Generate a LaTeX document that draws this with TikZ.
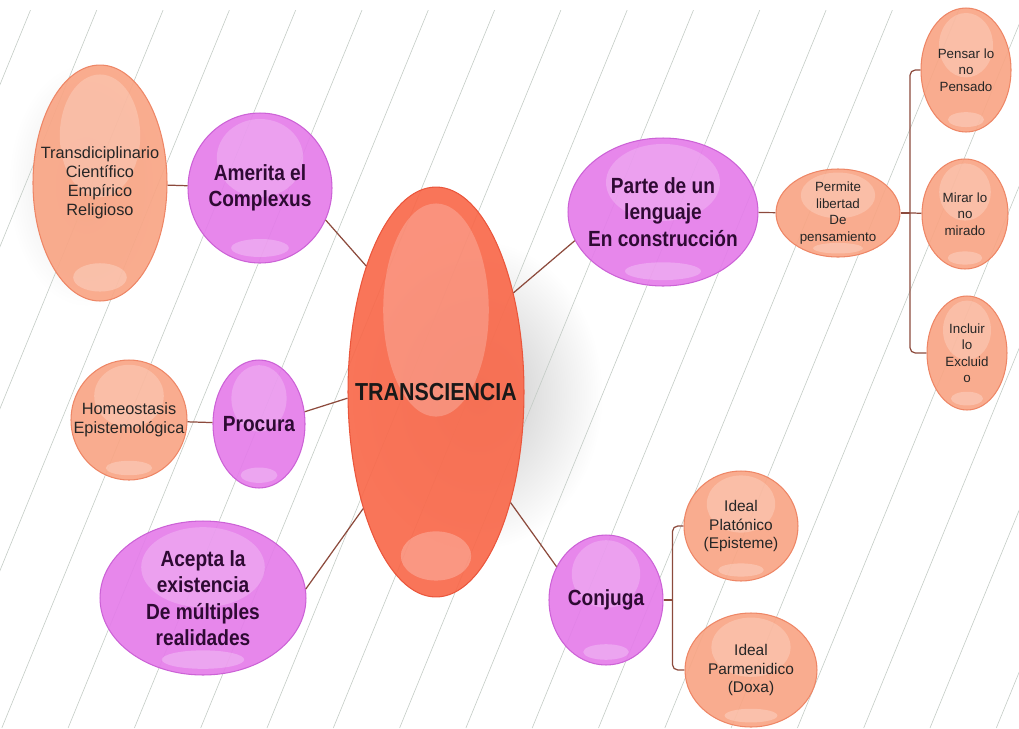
\documentclass[tikz,border=0pt]{standalone}
\usepackage{fontspec}
\setmainfont{Liberation Sans}
\newfontfamily\narrowsans[FakeStretch=0.87]{Liberation Sans}
\usetikzlibrary{shapes.geometric,calc,positioning}
\definecolor{ballpink}{RGB}{229,126,234}
\definecolor{ballpinkedge}{RGB}{204,98,214}
\definecolor{ballorange}{RGB}{249,166,134}
\definecolor{ballorangeedge}{RGB}{238,134,102}
\definecolor{ballred}{RGB}{249,106,76}
\definecolor{ballrededge}{RGB}{234,86,60}
\definecolor{pinktext}{RGB}{46,10,51}
\definecolor{linkbrown}{RGB}{140,74,60}
\definecolor{bgline}{RGB}{196,204,198}

\tikzset{
  gloss/.style={path picture={
    \fill[white,fill opacity=.22]
      let \p1=(path picture bounding box.south west), \p2=(path picture bounding box.north east)
      in ({0.5*\x1+0.5*\x2},{0.3*\y1+0.7*\y2}) ellipse ({0.3*(\x2-\x1)} and {0.26*(\y2-\y1)});
    \fill[white,fill opacity=.25]
      let \p1=(path picture bounding box.south west), \p2=(path picture bounding box.north east)
      in ({0.5*\x1+0.5*\x2},{0.9*\y1+0.1*\y2}) ellipse ({0.2*(\x2-\x1)} and {0.06*(\y2-\y1)});
  }},
  ball/.style={ellipse, inner sep=-2cm, line width=0.6pt, fill opacity=.93,
    text opacity=1, align=center, gloss},
  pinkball/.style={ball, fill=ballpink, draw=ballpinkedge, text=pinktext,
    font=\narrowsans\bfseries\fontsize{12.5}{15}\selectfont},
  orangeball/.style={ball, fill=ballorange, draw=ballorangeedge, text=black!85,
    font=\fontsize{9.3}{10.8}\selectfont},
  smallball/.style={orangeball, font=\fontsize{7.6}{9.4}\selectfont},
  coreball/.style={ball, fill=ballred, draw=ballrededge, text=black!90,
    font=\narrowsans\bfseries\fontsize{14}{16}\selectfont},
  link/.style={draw=linkbrown, line width=0.7pt},
  bg line/.style={draw=bgline, line width=0.35pt}
}

\begin{document}
\begin{tikzpicture}[x=0.02cm,y=-0.02cm]
\useasboundingbox (0,0) rectangle (1019,728);
% soft shadows
\shade[inner color=black!22, outer color=white] (478,395) ellipse (125 and 155);
\shade[inner color=black!12, outer color=white] (86,185) ellipse (78 and 122);
% slanted ruling
\begin{scope}
\clip (0,10) rectangle (1019,728);
\foreach \k in {-8,...,11}
  \draw[bg line] ({565+66.3*\k},0) -- ++(-298,728);
\end{scope}

\node[coreball, minimum width=3.52cm, minimum height=8.2cm] (trans) at (436,392) {TRANSCIENCIA};

\node[orangeball, minimum width=2.68cm, minimum height=4.72cm] (transd) at (100,183)
  {Transdiciplinario\\Científico\\Empírico\\Religioso};
\node[pinkball, minimum width=2.88cm, minimum height=3cm] (amerita) at (260,188) {Amerita el\\Complexus};
\node[orangeball, minimum width=2.32cm, minimum height=2.4cm] (homeo) at (129,420) {Homeostasis\\Epistemológica};
\node[pinkball, minimum width=1.84cm, minimum height=2.56cm] (procura) at (259,424) {Procura};
\node[pinkball, minimum width=4.12cm, minimum height=3.08cm] (acepta) at (203,598)
  {Acepta la\\existencia\\De múltiples\\realidades};

\node[pinkball, minimum width=3.8cm, minimum height=2.96cm] (parte) at (663,212)
  {Parte de un\\lenguaje\\En construcción};
\node[smallball, minimum width=2.48cm, minimum height=1.76cm] (permite) at (838,213)
  {Permite\\libertad\\De\\pensamiento};
\node[smallball, minimum width=1.8cm, minimum height=2.48cm] (pensar) at (966,70) {Pensar lo\\no\\Pensado};
\node[smallball, minimum width=1.72cm, minimum height=2.2cm] (mirar) at (965,214) {Mirar lo\\no\\mirado};
\node[smallball, minimum width=1.6cm, minimum height=2.28cm] (incluir) at (967,353) {Incluir\\lo\\Excluid\\o};
\coordinate (fork1) at (910,213);

\node[pinkball, minimum width=2.28cm, minimum height=2.6cm] (conjuga) at (606,600) {Conjuga};
\node[orangeball, font=\fontsize{8.8}{10.4}\selectfont, minimum width=2.28cm, minimum height=2.2cm] (platonico) at (741,526)
  {Ideal\\Platónico\\(Episteme)};
\node[orangeball, font=\fontsize{8.8}{10.4}\selectfont, minimum width=2.64cm, minimum height=2.28cm] (parmen) at (751,670)
  {Ideal\\Parmenidico\\(Doxa)};
\coordinate (fork2) at ($(conjuga.east)+(9,0)$);

% connectors
\draw[link] (transd) -- (amerita);
\draw[link] (amerita.-26) -- (trans.119);
\draw[link] (homeo) -- (procura);
\draw[link] (procura.15) -- (trans.184);
\draw[link] (acepta.5) -- (trans.238);
\draw[link] (trans.52) -- (parte.198);
\draw[link] (parte) -- (permite);
\draw[link] (permite.east) -- (fork1);
\draw[link, rounded corners=3pt] (fork1) |- (pensar);
\draw[link] (fork1) -- (mirar);
\draw[link, rounded corners=3pt] (fork1) |- (incluir);
\draw[link] (trans.-56) -- (conjuga.146);
\draw[link] (conjuga.east) -- (fork2);
\draw[link, rounded corners=3pt] (fork2) |- (platonico);
\draw[link, rounded corners=3pt] (fork2) |- (parmen);
\end{tikzpicture}
\end{document}
